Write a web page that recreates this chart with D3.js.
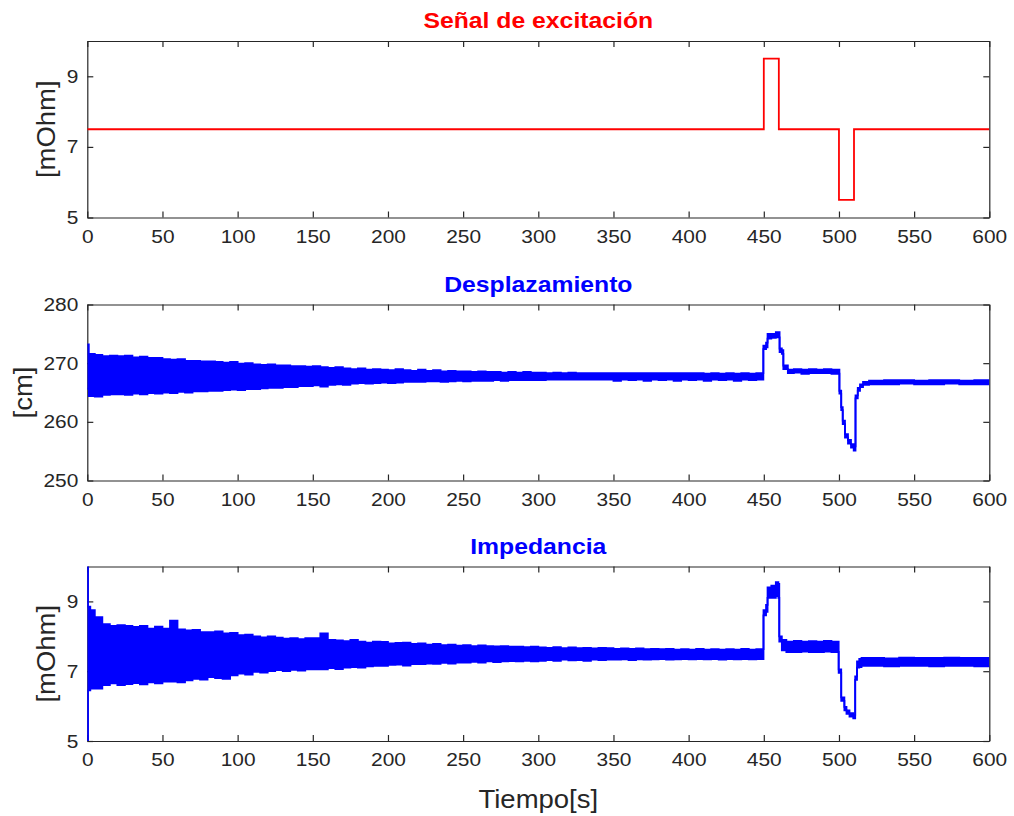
<!DOCTYPE html>
<html>
<head>
<meta charset="utf-8">
<script src="https://cdn.jsdelivr.net/npm/d3@7"></script>
<style>
  body { margin: 0; background: #fff; }
  text { font-family: "Liberation Sans", Arial, Helvetica, sans-serif; }
</style>
</head>
<body>
<svg id="chart" width="1014" height="816"></svg>
<script>
// ---- data ----
const timeTicks = [0, 50, 100, 150, 200, 250, 300, 350, 400, 450, 500, 550, 600];
const ohmTicks = [5, 7, 9];
const cmTicks = [250, 260, 270, 280];

// excitation signal (step function, value holds until next time)
const excitTime  = [0, 450, 460, 500, 510, 600];
const excitValue = [7.5, 9.5, 7.5, 5.5, 7.5, 7.5];

// displacement: upper / lower envelope of the recorded trace
const dispTime = [0, 1, 5, 10, 15, 20, 25, 30, 35, 40, 45, 50, 55, 60, 65, 70, 75, 80, 85, 90, 95,
  100, 105, 110, 115, 120, 125, 130, 135, 140, 145, 150, 155, 160, 165, 170, 175, 180, 185, 190, 195,
  200, 205, 210, 215, 220, 225, 230, 235, 240, 245, 250, 255, 260, 265, 270, 275, 280, 285, 290, 295,
  300, 305, 310, 315, 320, 325, 330, 335, 340, 345, 350, 355, 360, 365, 370, 375, 380, 385, 390, 395,
  400, 405, 410, 415, 420, 425, 430, 435, 440, 445,
  449.7, 451.5, 452.5, 455, 458, 460.5, 462, 463, 466, 470, 475, 480, 485, 490, 495,
  500.3, 501.5, 502.5, 504, 506, 508, 509.8, 511, 512.5, 514, 516, 520, 530, 540, 550, 560, 570, 580, 590, 600];
const dispHigh = [273.2, 271.6, 271.4, 271.2, 271.3, 271.2, 271.3, 271.0, 271.1, 270.9, 270.9, 270.7, 270.6, 270.7, 270.4, 270.4, 270.3, 270.3, 270.2, 270.1, 270.2,
  269.9, 270.0, 269.8, 269.7, 269.8, 269.6, 269.6, 269.5, 269.5, 269.4, 269.5, 269.3, 269.2, 269.3, 269.1, 269.0, 269.1, 268.9, 269.0, 268.9,
  268.8, 269.0, 268.8, 268.7, 268.9, 268.7, 268.8, 268.6, 268.7, 268.6, 268.6, 268.5, 268.6, 268.5, 268.5, 268.4, 268.5, 268.4, 268.5, 268.4,
  268.4, 268.3, 268.4, 268.3, 268.4, 268.3, 268.3, 268.3, 268.3, 268.3, 268.3, 268.3, 268.3, 268.3, 268.3, 268.3, 268.3, 268.3, 268.3, 268.3,
  268.3, 268.3, 268.2, 268.3, 268.2, 268.3, 268.2, 268.3, 268.2, 268.3,
  273.0, 273.5, 275.0, 275.0, 275.3, 272.5, 272.2, 269.6, 268.9, 269.0, 268.9, 269.0, 268.9, 269.0, 268.9,
  265.3, 262.5, 260.2, 257.9, 256.9, 256.2, 255.8, 264.5, 265.8, 266.4, 266.8, 267.0, 267.1, 267.1, 267.0, 267.1, 267.1, 267.0, 267.1, 267.1];
const dispLow = [265.6, 264.4, 264.3, 264.6, 264.7, 264.7, 264.6, 264.8, 264.7, 264.9, 264.8, 265.0, 264.9, 265.1, 265.0, 265.2, 265.2, 265.3, 265.3, 265.4, 265.5,
  265.4, 265.6, 265.6, 265.7, 265.8, 265.8, 265.9, 265.9, 266.1, 266.1, 266.2, 266.0, 266.3, 266.4, 266.3, 266.5, 266.6, 266.5, 266.6, 266.7,
  266.6, 266.7, 266.8, 266.8, 266.8, 266.9, 266.9, 266.8, 266.9, 267.0, 266.9, 267.0, 267.0, 267.0, 267.1, 267.0, 267.1, 267.1, 267.1, 267.1,
  267.1, 267.2, 267.2, 267.2, 267.2, 267.2, 267.2, 267.2, 267.2, 267.2, 267.0, 267.2, 267.1, 267.2, 267.0, 267.2, 267.1, 267.2, 267.0, 267.2,
  267.1, 267.2, 267.0, 267.2, 267.1, 267.2, 267.0, 267.2, 267.1, 267.2,
  272.4, 272.7, 274.2, 274.3, 274.4, 271.9, 271.6, 269.0, 268.3, 268.4, 268.2, 268.3, 268.3, 268.3, 268.2,
  264.8, 262.0, 259.6, 257.3, 256.3, 255.6, 255.1, 264.0, 265.3, 265.9, 266.3, 266.4, 266.4, 266.5, 266.4, 266.4, 266.5, 266.4, 266.4, 266.4];

// impedance: upper / lower envelope of the recorded trace
const impTime = [0, 0.5, 2, 5, 10, 15, 20, 25, 30, 35, 40, 45, 50, 55, 60, 65, 70, 75, 80, 85, 90, 95,
  100, 105, 110, 115, 120, 125, 130, 135, 140, 145, 150, 155, 160, 165, 170, 175, 180, 185, 190, 195,
  200, 205, 210, 215, 220, 225, 230, 235, 240, 245, 250, 255, 260, 265, 270, 275, 280, 285, 290, 295,
  300, 305, 310, 315, 320, 325, 330, 335, 340, 345, 350, 355, 360, 365, 370, 375, 380, 385, 390, 395,
  400, 405, 410, 415, 420, 425, 430, 435, 440, 445,
  449.8, 451.5, 452.5, 455, 458, 459.7, 460.3, 462, 465, 470, 475, 480, 485, 490, 495,
  499.8, 501.5, 503.6, 505, 507, 509.5, 510.8, 512, 513.5, 515, 520, 530, 540, 550, 560, 570, 580, 590, 600];
const impHigh = [10.0, 8.85, 8.75, 8.55, 8.35, 8.3, 8.32, 8.3, 8.27, 8.3, 8.22, 8.28, 8.22, 8.45, 8.2, 8.17, 8.18, 8.12, 8.12, 8.14, 8.08, 8.1,
  8.03, 8.05, 8.0, 7.97, 8.0, 7.96, 7.93, 7.95, 7.92, 7.95, 7.95, 8.08, 7.9, 7.88, 7.86, 7.9, 7.85, 7.82, 7.85, 7.84,
  7.8, 7.81, 7.82, 7.78, 7.8, 7.76, 7.78, 7.75, 7.76, 7.73, 7.75, 7.72, 7.74, 7.72, 7.71, 7.72, 7.7, 7.7, 7.69, 7.7,
  7.68, 7.67, 7.69, 7.66, 7.68, 7.66, 7.67, 7.65, 7.67, 7.66, 7.64, 7.65, 7.64, 7.65, 7.63, 7.64, 7.63, 7.64, 7.62, 7.63,
  7.62, 7.64, 7.62, 7.63, 7.62, 7.63, 7.62, 7.64, 7.62, 7.63,
  8.75, 8.9, 9.4, 9.45, 9.55, 9.5, 8.0, 7.9, 7.85, 7.87, 7.85, 7.86, 7.85, 7.87, 7.85,
  7.05, 6.25, 5.98, 5.88, 5.8, 5.75, 6.85, 7.28, 7.35, 7.38, 7.38, 7.37, 7.39, 7.38, 7.38, 7.39, 7.38, 7.38, 7.38];
const impLow = [5.0, 6.45, 6.5, 6.5, 6.6, 6.65, 6.6, 6.63, 6.66, 6.62, 6.68, 6.65, 6.7, 6.7, 6.68, 6.74, 6.78, 6.76, 6.83, 6.8, 6.78, 6.88,
  6.93, 6.9, 6.98, 6.96, 7.0, 7.03, 7.0, 7.04, 7.02, 7.05, 7.05, 7.05, 7.09, 7.06, 7.1, 7.12, 7.1, 7.14, 7.15, 7.15,
  7.18, 7.19, 7.16, 7.2, 7.2, 7.22, 7.21, 7.24, 7.22, 7.25, 7.25, 7.27, 7.25, 7.28, 7.26, 7.28, 7.29, 7.28, 7.3, 7.28,
  7.3, 7.32, 7.3, 7.33, 7.31, 7.32, 7.3, 7.33, 7.32, 7.33, 7.33, 7.34, 7.32, 7.34, 7.33, 7.34, 7.35, 7.33, 7.34, 7.35,
  7.34, 7.35, 7.34, 7.35, 7.33, 7.35, 7.34, 7.35, 7.34, 7.35,
  8.6, 8.7, 9.1, 9.1, 9.15, 9.1, 7.85, 7.6, 7.55, 7.55, 7.56, 7.55, 7.55, 7.56, 7.55,
  6.95, 6.15, 5.88, 5.78, 5.7, 5.65, 6.75, 7.1, 7.12, 7.15, 7.15, 7.14, 7.15, 7.15, 7.14, 7.15, 7.15, 7.14, 7.15];

// ---- layout ----
const svg = d3.select("#chart");
const S = 1.1;                 // horizontal text stretch
const axisColor = "#262626";
const plotLeft = 87.3, plotRight = 989.3;
const x = d3.scaleLinear().domain([0, 600]).range([plotLeft, plotRight]);

const panels = [
  { top: 41, bottom: 217.5, domain: [5, 10], ticks: ohmTicks, title: "Señal de excitación", titleColor: "#ff0000",
    ylabel: "[mOhm]", ylabelX: 46, kind: "step", color: "#ff0000" },
  { top: 304.5, bottom: 480.5, domain: [250, 280], ticks: cmTicks, title: "Desplazamiento", titleColor: "#0000ff",
    ylabel: "[cm]", ylabelX: 23, kind: "band", t: dispTime, hi: dispHigh, lo: dispLow, color: "#0000ff" },
  { top: 566.5, bottom: 741, domain: [5, 10], ticks: ohmTicks, title: "Impedancia", titleColor: "#0000ff",
    ylabel: "[mOhm]", ylabelX: 46, kind: "band", t: impTime, hi: impHigh, lo: impLow, color: "#0000ff" }
];

function stretch(sel) {
  sel.each(function () {
    const t = d3.select(this);
    const x0 = +t.attr("x") || 0;
    t.attr("x", x0 / S).attr("transform", `scale(${S},1)`);
  });
}

function styleAxis(g) {
  g.selectAll("path.domain").attr("stroke", axisColor).attr("stroke-width", 1.2);
  g.selectAll(".tick line").attr("stroke", axisColor).attr("stroke-width", 1.2);
  g.selectAll(".tick text").attr("fill", axisColor).style("font-size", "19px");
}

const fmt = d3.format("d");

panels.forEach((p, i) => {
  const y = d3.scaleLinear().domain(p.domain).range([p.bottom, p.top]);
  const g = svg.append("g");

  // box with mirrored inward ticks
  const bottom = g.append("g").attr("transform", `translate(0,${p.bottom})`)
    .call(d3.axisBottom(x).tickValues(timeTicks).tickFormat(fmt).tickSizeInner(-6).tickSizeOuter(0).tickPadding(12));
  const top = g.append("g").attr("transform", `translate(0,${p.top})`)
    .call(d3.axisTop(x).tickValues(timeTicks).tickSizeInner(-6).tickSizeOuter(0).tickFormat(""));
  const left = g.append("g").attr("transform", `translate(${plotLeft},0)`)
    .call(d3.axisLeft(y).tickValues(p.ticks).tickFormat(fmt).tickSizeInner(-6).tickSizeOuter(0).tickPadding(9));
  const right = g.append("g").attr("transform", `translate(${plotRight},0)`)
    .call(d3.axisRight(y).tickValues(p.ticks).tickSizeInner(-6).tickSizeOuter(0).tickFormat(""));
  [bottom, top, left, right].forEach(a => { a.attr("font-family", null).attr("font-size", null); styleAxis(a); });
  stretch(bottom.selectAll(".tick text"));
  stretch(left.selectAll(".tick text"));

  // clip region for the traces
  const clipId = `clip${i}`;
  svg.append("clipPath").attr("id", clipId).append("rect")
    .attr("x", plotLeft).attr("y", p.top).attr("width", plotRight - plotLeft).attr("height", p.bottom - p.top);
  const plot = g.append("g").attr("clip-path", `url(#${clipId})`);

  if (p.kind === "step") {
    const line = d3.line().x((d, j) => x(excitTime[j])).y(d => y(d)).curve(d3.curveStepAfter);
    plot.append("path").attr("d", line(excitValue))
      .attr("fill", "none").attr("stroke", p.color).attr("stroke-width", 1.8);
  } else {
    const idx = d3.range(p.t.length);
    const area = d3.area().x(j => x(p.t[j])).y0(j => y(p.lo[j])).y1(j => y(p.hi[j])).curve(d3.curveStepAfter);
    plot.append("path").attr("d", area(idx)).attr("fill", p.color).attr("stroke", "none");
    const hiLine = d3.line().x(j => x(p.t[j])).y(j => y(p.hi[j])).curve(d3.curveStepAfter);
    const loLine = d3.line().x(j => x(p.t[j])).y(j => y(p.lo[j])).curve(d3.curveStepAfter);
    [hiLine, loLine].forEach(l => plot.append("path").attr("d", l(idx))
      .attr("fill", "none").attr("stroke", p.color).attr("stroke-width", 1.8));
  }

  // title
  svg.append("text").attr("x", 0).attr("y", 0)
    .attr("transform", `translate(${(plotLeft + plotRight) / 2},${p.top - 13}) scale(${S},1)`)
    .attr("text-anchor", "middle").attr("fill", p.titleColor)
    .style("font-size", "22.5px").style("font-weight", "bold").text(p.title);

  // y label
  svg.append("text")
    .attr("transform", `translate(${p.ylabelX},${(p.top + p.bottom) / 2}) rotate(-90) scale(${S},1)`)
    .attr("text-anchor", "middle").attr("dy", "0.35em").attr("fill", axisColor)
    .style("font-size", "25px").text(p.ylabel);
});

// x label
svg.append("text")
  .attr("transform", `translate(${(plotLeft + plotRight) / 2},808) scale(${S},1)`)
  .attr("text-anchor", "middle").attr("fill", axisColor)
  .style("font-size", "25px").text("Tiempo[s]");
</script>
</body>
</html>
